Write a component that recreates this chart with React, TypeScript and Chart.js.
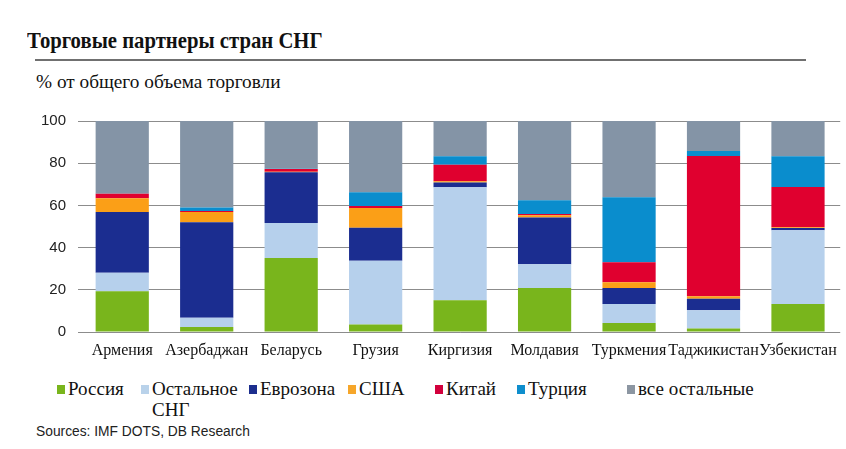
import React, { useEffect, useRef } from "react";
import { Chart, registerables } from "chart.js";

Chart.register(...registerables);

const categories = ["Армения", "Азербаджан", "Беларусь", "Грузия", "Киргизия", "Молдавия", "Туркмения", "Таджикистан", "Узбекистан"];
const seriesNames = ["Россия", "Остальное СНГ", "Еврозона", "США", "Китай", "Турция", "все остальные"];
const russia = [19.3, 2.4, 35.1, 3.5, 15.0, 20.9, 4.3, 1.6, 13.3];
const otherCIS = [8.8, 4.4, 16.6, 30.3, 53.6, 11.2, 9.0, 8.7, 34.9];
const eurozone = [28.8, 45.2, 24.0, 15.6, 2.3, 22.2, 7.6, 5.5, 1.1];
const usa = [6.5, 4.9, 0.3, 9.4, 0.6, 1.0, 2.7, 1.1, 0.4];
const china = [2.1, 0.5, 1.2, 0.9, 7.8, 0.6, 9.5, 66.5, 19.0];
const turkey = [0.0, 1.6, 0.2, 6.5, 4.0, 6.6, 30.8, 2.4, 14.6];
const others = [34.5, 41.0, 22.6, 33.8, 16.7, 37.5, 36.1, 14.2, 16.7];
const yTicks = [0, 20, 40, 60, 80, 100];

const barColors = ["#79b51c", "#b6d0ec", "#1b2d90", "#fb9f17", "#e0002f", "#0a8dcd", "#8494a6"];
const legendColors = ["#79b51c", "#b9d2ea", "#1c2e8e", "#f6a62a", "#d2003c", "#0e8ecd", "#8c96a2"];
const legendLeft = [57, 141, 249, 348, 435, 517, 627];
const legendTextWidth = [80, 90, 100, 70, 70, 90, 140];

export default function App() {
  const ref = useRef<HTMLCanvasElement>(null);

  useEffect(() => {
    const seriesData = [russia, otherCIS, eurozone, usa, china, turkey, others];
    const chart = new Chart(ref.current!, {
      type: "bar",
      data: {
        labels: categories,
        datasets: seriesData.map((d, i) => ({
          label: seriesNames[i],
          data: d,
          backgroundColor: barColors[i],
          borderWidth: 0,
          categoryPercentage: 1,
          barPercentage: 0.63,
        })),
      },
      options: {
        animation: false,
        responsive: false,
        maintainAspectRatio: false,
        layout: { padding: { top: 21, right: 4, left: 0, bottom: 0 } },
        plugins: { legend: { display: false }, tooltip: { enabled: false }, title: { display: false } },
        scales: {
          x: {
            stacked: true,
            grid: { display: false, drawTicks: false },
            border: { display: false },
            ticks: {
              color: "#111",
              padding: 9,
              maxRotation: 0,
              autoSkip: false,
              font: { family: "'Liberation Serif', serif", size: 16 },
            },
            afterFit: (s: any) => { s.height = 38; },
          },
          y: {
            stacked: true,
            min: 0,
            max: 100,
            afterBuildTicks: (s: any) => { s.ticks = yTicks.map((v) => ({ value: v })); },
            grid: { color: "#8c8c8c", lineWidth: 1, tickLength: 2 },
            border: { display: false },
            ticks: {
              color: "#222",
              padding: 12,
              font: { family: "'Liberation Sans', Arial, sans-serif", size: 15 },
            },
            afterFit: (s: any) => { s.width = 80; },
          },
        },
      },
    });
    return () => chart.destroy();
  }, []);

  return (
    <div style={{ position: "absolute", left: 0, top: 0, width: 846, height: 449, background: "#fff", overflow: "hidden", fontFamily: "'Liberation Serif', serif", color: "#111" }}>
      <div style={{ position: "absolute", left: 27, top: 29, fontSize: 23, lineHeight: "23px", fontWeight: "bold", whiteSpace: "nowrap", transform: "scaleX(0.9)", transformOrigin: "left top" }}>
        Торговые партнеры стран СНГ
      </div>
      <div style={{ position: "absolute", left: 35, top: 59, width: 771, height: 1.5, background: "#707070" }} />
      <div style={{ position: "absolute", left: 36, top: 72, fontSize: 19.3, lineHeight: "19px", whiteSpace: "nowrap" }}>
        % от общего объема торговли
      </div>
      <canvas ref={ref} width={846} height={270} style={{ position: "absolute", left: 0, top: 100, width: 846, height: 270 }} />
      {seriesNames.map((name, i) => (
        <div key={name} style={{ position: "absolute", left: legendLeft[i], top: 378, display: "flex", alignItems: "flex-start" }}>
          <div style={{ width: 8, height: 9, marginTop: 7, marginRight: 3, background: legendColors[i], flex: "0 0 auto" }} />
          <div style={{ fontSize: 19, lineHeight: "21px", width: legendTextWidth[i] }}>{name}</div>
        </div>
      ))}
      <div style={{ position: "absolute", left: 36, top: 424, fontSize: 13.8, lineHeight: "15px", fontFamily: "'Liberation Sans', Arial, sans-serif", color: "#222", whiteSpace: "nowrap" }}>
        Sources: IMF DOTS, DB Research
      </div>
    </div>
  );
}
